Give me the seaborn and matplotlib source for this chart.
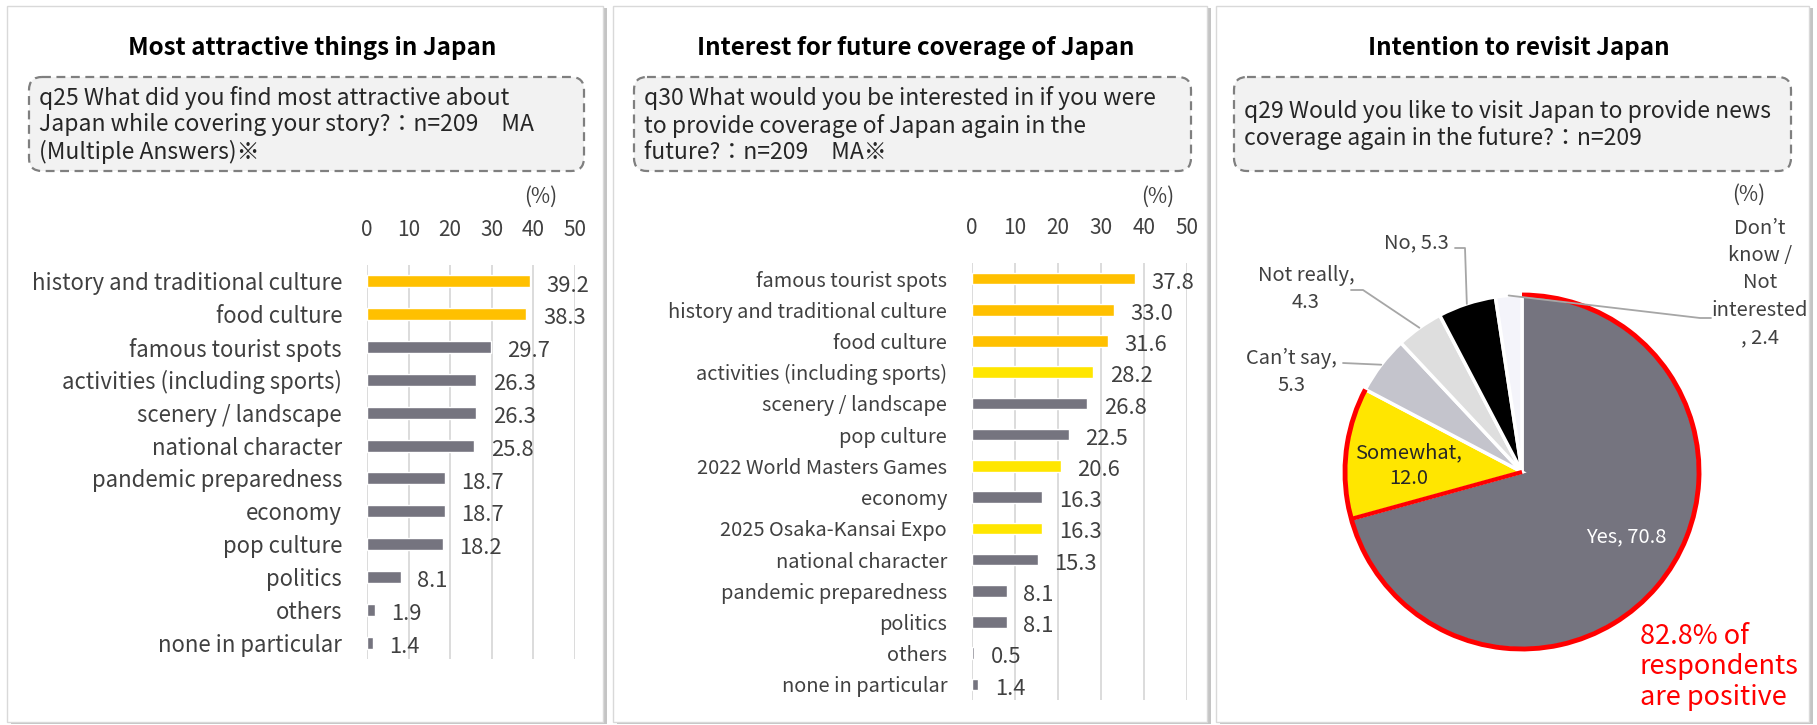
import numpy as np
import pandas as pd
import matplotlib
matplotlib.use("Agg")
import matplotlib.pyplot as plt
import matplotlib.transforms as mtransforms
from matplotlib.patches import Rectangle, FancyBboxPatch, Arc
from matplotlib.lines import Line2D
import seaborn as sns

# ---------------- data ----------------
q25_categories = ["history and traditional culture", "food culture", "famous tourist spots",
                  "activities (including sports)", "scenery / landscape", "national character",
                  "pandemic preparedness", "economy", "pop culture", "politics", "others",
                  "none in particular"]
q25_values = [39.2, 38.3, 29.7, 26.3, 26.3, 25.8, 18.7, 18.7, 18.2, 8.1, 1.9, 1.4]
q25_groups = ["top", "top", "base", "base", "base", "base", "base", "base", "base", "base",
              "base", "base"]

q30_categories = ["famous tourist spots", "history and traditional culture", "food culture",
                  "activities (including sports)", "scenery / landscape", "pop culture",
                  "2022 World Masters Games", "economy", "2025 Osaka-Kansai Expo",
                  "national character", "pandemic preparedness", "politics", "others",
                  "none in particular"]
q30_values = [37.8, 33.0, 31.6, 28.2, 26.8, 22.5, 20.6, 16.3, 16.3, 15.3, 8.1, 8.1, 0.5, 1.4]
q30_groups = ["top", "top", "top", "event", "base", "base", "event", "base", "event", "base",
              "base", "base", "base", "base"]

x_ticks = [0, 10, 20, 30, 40, 50]

pie_labels = ["Yes", "Somewhat", "Can\u2019t say", "Not really", "No",
              "Don\u2019t know / Not interested"]
pie_values = [70.8, 12.0, 5.3, 4.3, 5.3, 2.4]

titles = ["Most attractive things in Japan", "Interest for future coverage of Japan",
          "Intention to revisit Japan"]
questions = [
    "q25 What did you find most attractive about\nJapan while covering your story?\uff1an=209\u3000MA\n(Multiple Answers)\u203b",
    "q30 What would you be interested in if you were\nto provide coverage of Japan again in the\nfuture?\uff1an=209\u3000MA\u203b",
    "q29 Would you like to visit Japan to provide news\ncoverage again in the future?\uff1an=209",
]
positive_note = "82.8% of\nrespondents\nare positive"

# ---------------- style ----------------
GROUP_COLORS = {"top": "#FFC000", "event": "#FFE600", "base": "#75747F"}
PIE_COLORS = ["#75747F", "#FFE600", "#C4C4CC", "#DEDEDE", "#000000", "#F4F4FA"]
TXT = "#404040"

W, H, DPI = 1817, 725, 100
sns.set_theme(style="white")
plt.rcParams["font.family"] = ["Noto Sans CJK JP", "DejaVu Sans"]

fig = plt.figure(figsize=(W / DPI, H / DPI), dpi=DPI)
fig.patch.set_facecolor("white")
# pixel transform with top-left origin
T = mtransforms.Affine2D().scale(1, -1).translate(0, H).scale(1 / DPI) + fig.dpi_scale_trans


def axes_px(x0, y0, x1, y1):
    return fig.add_axes([x0 / W, 1 - y1 / H, (x1 - x0) / W, (y1 - y0) / H])


# ---------------- panels ----------------
panels = [(7, 6, 603, 722), (613, 6, 1207, 722), (1216, 6, 1809, 722)]
for (x0, y0, x1, y1) in panels:
    fig.add_artist(Rectangle((x0 + 4, y0 + 2), x1 - x0, y1 - y0, transform=T,
                             facecolor="#c4c4c4", edgecolor="none", zorder=-3))
    fig.add_artist(Rectangle((x0, y0), x1 - x0, y1 - y0, transform=T,
                             facecolor="white", edgecolor="#d9d9d9", lw=1, zorder=-2))

title_x = [312, 916, 1519]
for tx, t in zip(title_x, titles):
    fig.text(tx, 48, t, transform=T, ha="center", va="center", fontsize=17.4,
             fontweight="bold", color="black")

boxes = [(29, 77, 584, 171), (634, 77, 1191, 171), (1234, 77, 1791, 171)]
for (x0, y0, x1, y1), q in zip(boxes, questions):
    fig.add_artist(FancyBboxPatch((x0, y0), x1 - x0, y1 - y0, transform=T,
                                  boxstyle="round,pad=0,rounding_size=13",
                                  facecolor="#f2f2f2", edgecolor="#7f7f7f", lw=1.6,
                                  linestyle=(0, (4, 2.5)), zorder=1))
    fig.text(x0 + 10, (y0 + y1) / 2 + 1, q, transform=T, ha="left", va="center",
             fontsize=16.5, color="#262626", linespacing=1.2, zorder=2)

for px, py in [(541, 197), (1158, 197), (1749, 195)]:
    fig.text(px, py, "(%)", transform=T, ha="center", va="center", fontsize=15, color=TXT)


# ---------------- bar charts ----------------
def bar_panel(box, cats, vals, groups, cat_size):
    ax = axes_px(*box)
    df = pd.DataFrame({"cat": cats, "val": vals, "grp": groups})
    sns.barplot(data=df, x="val", y="cat", hue="grp", palette=GROUP_COLORS, dodge=False,
                width=0.37, saturation=1, legend=False, orient="h", ax=ax, zorder=3)
    ax.set_xlim(0, 50)
    ax.set_ylim(len(cats) - 0.5, -0.5)
    ax.set_xticks(x_ticks)
    ax.xaxis.tick_top()
    ax.tick_params(axis="x", top=True, bottom=False, labeltop=True, labelbottom=False,
                   length=0, pad=17, labelsize=15, labelcolor=TXT)
    ax.tick_params(axis="y", length=0, pad=18, labelsize=cat_size, labelcolor=TXT)
    ax.set_xlabel("")
    ax.set_ylabel("")
    ax.grid(axis="x", color="#d9d9d9", lw=1.3)
    ax.grid(axis="y", visible=False)
    ax.set_axisbelow(True)
    for s in ax.spines.values():
        s.set_visible(False)
    ax.patch.set_alpha(0)
    for i, v in enumerate(vals):
        ax.annotate(f"{v:.1f}", xy=(v, i), xytext=(12, -3), textcoords="offset points",
                    ha="left", va="center", fontsize=15.8, color=TXT)
    return ax


bar_panel((367, 265, 575, 659), q25_categories, q25_values, q25_groups, 16)
bar_panel((972, 263, 1187, 700), q30_categories, q30_values, q30_groups, 14.4)

# ---------------- pie ----------------
cx, cy, r = 1522, 472, 177
axp = axes_px(cx - r, cy - r, cx + r, cy + r)
wedges, _ = axp.pie(pie_values, colors=PIE_COLORS, startangle=90, counterclock=False,
                    wedgeprops=dict(edgecolor="white", linewidth=2.5))
axp.set_xlim(-1, 1)
axp.set_ylim(-1, 1)
axp.set_aspect("equal")
for w in wedges:
    w.set_clip_on(False)

# red outline around positive answers (Yes + Somewhat)
axp.add_patch(Arc((0, 0), 2, 2, theta1=wedges[1].theta1, theta2=wedges[0].theta2,
                  color="#FF0000", lw=3.5, clip_on=False, zorder=5))
t_b = np.deg2rad(wedges[0].theta1)
axp.plot([0, np.cos(t_b)], [0, np.sin(t_b)], color="#FF0000", lw=3, zorder=5,
         solid_capstyle="butt", clip_on=False)


def wedge_anchor(w):
    m = np.deg2rad((w.theta1 + w.theta2) / 2)
    disp = axp.transData.transform((np.cos(m), np.sin(m)))
    return T.inverted().transform(disp)


# labels inside
fig.text(1626, 537, f"{pie_labels[0]}, {pie_values[0]:.1f}", transform=T, ha="center",
         va="center", fontsize=14.5, color="white")
fig.text(1409, 466, f"{pie_labels[1]},\n{pie_values[1]:.1f}", transform=T, ha="center",
         va="center", fontsize=14.5, color="#262626", linespacing=1.3)

# outside labels with leader lines
outside = [
    (2, (1291, 372), f"{pie_labels[2]},\n{pie_values[2]:.1f}", [(1343, 363)]),
    (3, (1306, 289), f"{pie_labels[3]},\n{pie_values[3]:.1f}", [(1351, 290), (1363, 290)]),
    (4, (1416, 243), f"{pie_labels[4]}, {pie_values[4]:.1f}", [(1455, 248), (1465, 248)]),
    (5, (1760, 283), "Don\u2019t\nknow /\nNot\ninterested\n, " + f"{pie_values[5]:.1f}",
     [(1711, 318), (1700, 318)]),
]
for idx, (tx, ty), txt, pts in outside:
    fig.text(tx, ty, txt, transform=T, ha="center", va="center", fontsize=14.5, color=TXT,
             linespacing=1.4)
    ax_pt = wedge_anchor(wedges[idx])
    xs = [p[0] for p in pts] + [ax_pt[0]]
    ys = [p[1] for p in pts] + [ax_pt[1]]
    fig.add_artist(Line2D(xs, ys, transform=T, color="#a6a6a6", lw=1.3, zorder=6))

fig.text(1640, 667, positive_note, transform=T, ha="left", va="center", fontsize=19.5,
         color="#FF0000", linespacing=1.18)

fig.savefig("out.png", dpi=DPI, facecolor="white")
